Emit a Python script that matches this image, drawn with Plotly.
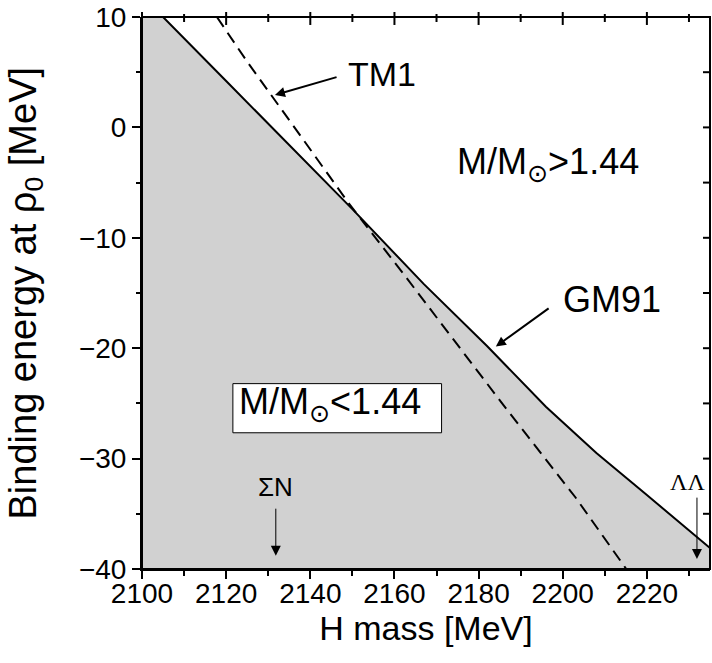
import plotly.graph_objects as go

# ---- data ----
h_mass_gm91 = [2100, 2105, 2120, 2135, 2150, 2167, 2182, 2196, 2208, 2220, 2235]
be_gm91 = [11.9, 10.0, 4.2, -1.6, -7.4, -14.2, -19.8, -25.3, -29.5, -33.3, -38.1]

h_mass_tm1 = [2117.8, 2125, 2137, 2149, 2162, 2174, 2186, 2203, 2215.1]
be_tm1 = [10.0, 5.95, -0.4, -6.8, -13.2, -19.2, -25.2, -33.5, -40.0]

x_ticks = [2100, 2120, 2140, 2160, 2180, 2200, 2220]
x_minor_ticks = [2110, 2130, 2150, 2170, 2190, 2210, 2230]
y_ticks = [-40, -30, -20, -10, 0, 10]
y_minor_ticks = [-35, -25, -15, -5, 5]
x_range = [2100, 2235]
y_range = [-40, 10]

sigma_n_threshold = 2131.8
lambda_lambda_threshold = 2231.9

FONT = "Liberation Sans, Arial, Helvetica, sans-serif"
SUN = "<span style=\"font-family:'DejaVu Sans'\">\u2299</span>"

W, H = 712, 663
ML, MR, MT, MB = 142, 2, 15, 94
PLOT_W = W - ML - MR
PLOT_H = H - MT - MB


def px_x(v):
    return (v - x_range[0]) / (x_range[1] - x_range[0])


def px_y(v):
    return (v - y_range[0]) / (y_range[1] - y_range[0])


fig = go.Figure()

# baseline for fill
fig.add_trace(go.Scatter(x=x_range, y=[y_range[0], y_range[0]], mode="lines",
                         line=dict(width=0, color="rgba(0,0,0,0)"),
                         hoverinfo="skip", showlegend=False))
# GM91 (solid, region below shaded)
fig.add_trace(go.Scatter(x=h_mass_gm91, y=be_gm91, mode="lines",
                         line=dict(color="black", width=2),
                         fill="tonexty", fillcolor="#d1d1d1",
                         showlegend=False, name="GM91"))
# TM1 (dashed)
fig.add_trace(go.Scatter(x=h_mass_tm1, y=be_tm1, mode="lines",
                         line=dict(color="black", width=2, dash="12px,7px"),
                         showlegend=False, name="TM1"))

fig.update_layout(
    width=W, height=H,
    margin=dict(l=ML, r=MR, t=MT, b=MB),
    paper_bgcolor="white", plot_bgcolor="white",
    font=dict(family=FONT, color="black"),
    showlegend=False,
    xaxis=dict(range=x_range, tickvals=x_ticks, ticks="outside", ticklen=8, tickwidth=2,
               tickcolor="black", showline=True, linewidth=2, linecolor="black",
               showgrid=False, zeroline=False, tickfont=dict(size=28),
               ticklabelstandoff=-10, ticklabeloverflow="allow",
               minor=dict(tickvals=x_minor_ticks, ticks="outside", ticklen=5, tickwidth=2,
                          tickcolor="black", showgrid=False),
               title=dict(text="H mass [MeV]", font=dict(size=34), standoff=9)),
    yaxis=dict(range=y_range, tickvals=y_ticks,
               ticktext=[str(v).replace("-", "\u2212") for v in y_ticks],
               ticks="outside", ticklen=8, tickwidth=2, ticklabeloverflow="allow",
               tickcolor="black", showline=True, linewidth=2, linecolor="black",
               showgrid=False, zeroline=False, tickfont=dict(size=28),
               minor=dict(tickvals=y_minor_ticks, ticks="outside", ticklen=4, tickwidth=2,
                          tickcolor="black", showgrid=False)),
)

# frame
fig.add_shape(type="rect", xref="paper", yref="paper", x0=0, x1=1, y0=0, y1=1,
              line=dict(color="black", width=2), layer="above")

# top ticks (crossing the frame) and right ticks (inside)
for t in x_ticks:
    fig.add_shape(type="line", xref="paper", yref="paper", x0=px_x(t), x1=px_x(t),
                  y0=1 + 5 / PLOT_H, y1=1 - 8 / PLOT_H, line=dict(color="black", width=2))
for t in x_minor_ticks:
    fig.add_shape(type="line", xref="paper", yref="paper", x0=px_x(t), x1=px_x(t),
                  y0=1 + 3 / PLOT_H, y1=1 - 5 / PLOT_H, line=dict(color="black", width=2))
for t in y_ticks + y_minor_ticks:
    fig.add_shape(type="line", xref="paper", yref="paper", x0=1, x1=1 - 7 / PLOT_W,
                  y0=px_y(t), y1=px_y(t), line=dict(color="black", width=2))

# y-axis title as rotated annotation
fig.add_annotation(text="Binding energy at \u03c1<sub>0</sub> [MeV]", textangle=-90,
                   xref="paper", yref="paper", x=(25.5 - ML) / PLOT_W, y=0.5,
                   xanchor="center", yanchor="middle", showarrow=False,
                   font=dict(size=38, family=FONT))

# box for M/M<1.44
fig.add_shape(type="rect", xref="x", yref="y", x0=2121.6, x1=2171.2, y0=-27.66, y1=-23.21,
              fillcolor="white", line=dict(color="black", width=1), layer="above")

fig.add_annotation(text="M/M<sub>" + SUN + "</sub><1.44", x=2122.6, y=-25.1, xanchor="left",
                   yanchor="middle", showarrow=False, font=dict(size=36))
fig.add_annotation(text="M/M<sub>" + SUN + "</sub>>1.44", x=2174.4, y=-3.4, xanchor="left",
                   yanchor="middle", showarrow=False, font=dict(size=36))
fig.add_annotation(text="GM91", x=2211.8, y=-15.56, xanchor="center", yanchor="middle",
                   showarrow=False, font=dict(size=36))
fig.add_annotation(text="TM1", x=2148.5, y=4.8, xanchor="left", yanchor="middle",
                   showarrow=False, font=dict(size=34))

# arrows to curves
fig.add_annotation(x=2131.6, y=2.94, ax=2146.6, ay=4.59, xref="x", yref="y", axref="x", ayref="y",
                   text="", showarrow=True, arrowhead=2, arrowsize=1, arrowwidth=2,
                   arrowcolor="black", standoff=0)
fig.add_annotation(x=2184.1, y=-19.85, ax=2197.0, ay=-16.3, xref="x", yref="y", axref="x", ayref="y",
                   text="", showarrow=True, arrowhead=2, arrowsize=1, arrowwidth=2,
                   arrowcolor="black", standoff=0)

# thresholds
fig.add_annotation(text="\u03a3N", x=sigma_n_threshold, y=-32.6, xanchor="center", yanchor="middle",
                   showarrow=False, font=dict(size=26))
fig.add_annotation(x=sigma_n_threshold, y=-38.8, ax=sigma_n_threshold, ay=-34.4,
                   xref="x", yref="y", axref="x", ayref="y", text="", showarrow=True,
                   arrowhead=2, arrowsize=2, arrowwidth=1, arrowcolor="black", standoff=0)
fig.add_annotation(text="\u039b\u039b", x=lambda_lambda_threshold - 2.2, y=-32.1, xanchor="center",
                   yanchor="middle", showarrow=False,
                   font=dict(size=24, family="Liberation Serif, Times New Roman, serif"))
fig.add_annotation(x=lambda_lambda_threshold, y=-39.1, ax=lambda_lambda_threshold, ay=-33.4,
                   xref="x", yref="y", axref="x", ayref="y", text="", showarrow=True,
                   arrowhead=2, arrowsize=2, arrowwidth=1, arrowcolor="black", standoff=0)

fig.write_html("out.html", config={"displayModeBar": False},
               post_script="document.body.style.margin='0';document.body.style.overflow='hidden';")
